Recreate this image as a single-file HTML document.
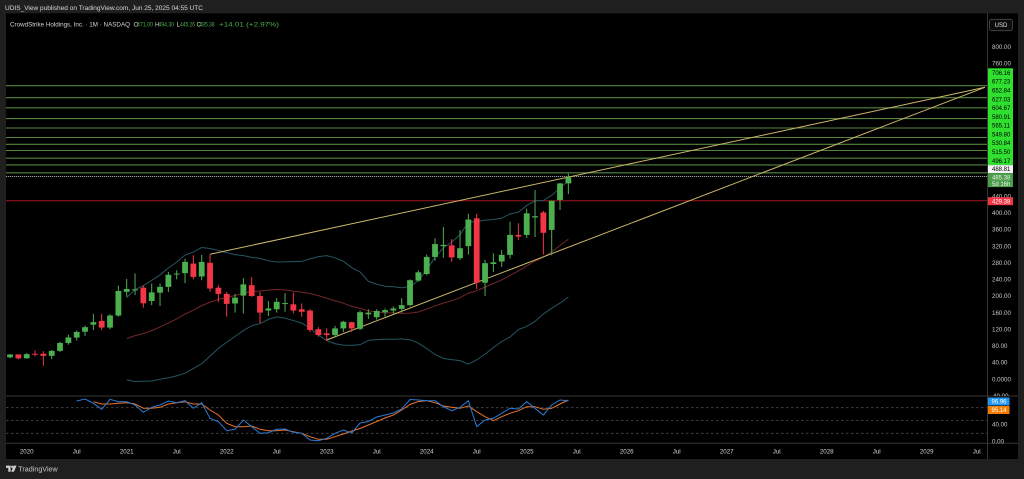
<!DOCTYPE html>
<html><head><meta charset="utf-8">
<style>
html,body{margin:0;padding:0;background:#1f1f1f;width:1024px;height:479px;overflow:hidden}
svg{display:block}
text{font-family:"Liberation Sans",sans-serif}
</style></head><body>
<svg width="1024" height="479" viewBox="0 0 1024 479" xmlns="http://www.w3.org/2000/svg">
<defs>
<clipPath id="cm"><rect x="6" y="13.3" width="981.5" height="382.7"/></clipPath>
<clipPath id="cs"><rect x="6" y="396.5" width="981.5" height="46.5"/></clipPath>
<clipPath id="ca"><rect x="988" y="13.3" width="30" height="382.7"/></clipPath>
</defs>
<rect x="0" y="0" width="1024" height="479" fill="#1f1f1f"/>
<rect x="6" y="13.3" width="1012" height="445.7" fill="#000"/>

<text x="5" y="9.8" font-size="6.6" fill="#d8d8d8" textLength="198" lengthAdjust="spacingAndGlyphs">UDIS_View published on TradingView.com, Jun 25, 2025 04:55 UTC</text>

<g clip-path="url(#cm)">
  <g stroke="#55853f" stroke-width="1.1">
    <line x1="6" x2="987.5" y1="85.7" y2="85.7"/>
    <line x1="6" x2="987.5" y1="97.7" y2="97.7"/>
    <line x1="6" x2="987.5" y1="107.8" y2="107.8"/>
    <line x1="6" x2="987.5" y1="118.6" y2="118.6"/>
    <line x1="6" x2="987.5" y1="128" y2="128"/>
    <line x1="6" x2="987.5" y1="137.5" y2="137.5"/>
    <line x1="6" x2="987.5" y1="144.3" y2="144.3"/>
    <line x1="6" x2="987.5" y1="150.5" y2="150.5"/>
    <line x1="6" x2="987.5" y1="158.2" y2="158.2"/>
    <line x1="6" x2="987.5" y1="164.9" y2="164.9"/>
    <line x1="6" x2="987.5" y1="172.8" y2="172.8"/>
  </g>
  <line x1="6" x2="987.5" y1="176.5" y2="176.5" stroke="#9a9a9a" stroke-width="1" stroke-dasharray="1.2 0.8"/>
  <line x1="6" x2="987.5" y1="200.7" y2="200.7" stroke="#a3161f" stroke-width="1"/>

  <!-- Bollinger bands -->
  <polyline fill="none" stroke="#255661" stroke-width="1" points="126.7,297.57 135.03,289.67 143.37,285.73 151.7,280.29 160.03,274.92 168.37,268.02 176.7,261.97 185.03,255.03 193.37,252.05 201.7,247.47 210.03,248.51 218.37,250.45 226.7,252.66 235.03,254.58 243.37,255.58 251.7,257.38 260.03,258.39 268.37,260.82 276.7,261.97 285.03,261.93 293.37,261.63 301.7,261.43 310.03,258.87 318.37,256.59 326.7,255.68 335.03,257.81 343.37,261.2 351.7,267.7 360.03,271.89 368.37,281.27 376.7,284.22 385.03,286.26 393.37,286.72 401.7,287.78 410.03,286.58 418.37,280.74 426.7,269.82 435.03,257.42 443.37,247.74 451.7,241.98 460.03,234.79 468.37,221.99 476.7,221.58 485.03,220.14 493.37,219.47 501.7,218.14 510.03,213.99 518.37,212.25 526.7,205.43 535.03,200.9 543.37,200.39 551.7,195.32 560.03,187.88 568.37,181.05"/>
  <polyline fill="none" stroke="#255661" stroke-width="1" points="126.7,379.74 135.03,381.56 143.37,381.28 151.7,380.94 160.03,379.26 168.37,377.93 176.7,375.88 185.03,373.18 193.37,368.43 201.7,363.78 210.03,356.0 218.37,348.37 226.7,342.25 235.03,336.35 243.37,330.59 251.7,325.68 260.03,323.71 268.37,319.37 276.7,316.85 285.03,318.09 293.37,320.55 301.7,323.0 310.03,328.24 318.37,334.79 326.7,340.52 335.03,343.75 343.37,345.18 351.7,345.32 360.03,344.67 368.37,340.35 376.7,339.65 385.03,339.23 393.37,339.23 401.7,338.92 410.03,339.7 418.37,343.17 426.7,348.53 435.03,354.48 443.37,358.47 451.7,359.66 460.03,360.62 468.37,364.19 476.7,359.86 485.03,354.12 493.37,347.51 501.7,341.49 510.03,336.96 518.37,329.52 526.7,326.45 535.03,321.34 543.37,314.04 551.7,308.18 560.03,303.11 568.37,297.17"/>
  <polyline fill="none" stroke="#74262a" stroke-width="1" points="126.7,338.66 135.03,335.62 143.37,333.5 151.7,330.62 160.03,327.09 168.37,322.97 176.7,318.93 185.03,314.11 193.37,310.24 201.7,305.63 210.03,302.26 218.37,299.41 226.7,297.46 235.03,295.47 243.37,293.09 251.7,291.53 260.03,291.05 268.37,290.1 276.7,289.41 285.03,290.01 293.37,291.09 301.7,292.21 310.03,293.55 318.37,295.69 326.7,298.1 335.03,300.78 343.37,303.19 351.7,306.51 360.03,308.28 368.37,310.81 376.7,311.93 385.03,312.75 393.37,312.97 401.7,313.35 410.03,313.14 418.37,311.96 426.7,309.17 435.03,305.95 443.37,303.11 451.7,300.82 460.03,297.7 468.37,293.09 476.7,290.72 485.03,287.13 493.37,283.49 501.7,279.82 510.03,275.47 518.37,270.88 526.7,265.94 535.03,261.12 543.37,257.21 551.7,251.75 560.03,245.5 568.37,239.11"/>

  <!-- trend lines -->
  <g stroke="#cbb86a" stroke-width="1" fill="none">
    <line x1="210" y1="254.3" x2="985" y2="87.3"/>
    <line x1="326.7" y1="340" x2="985" y2="87.3"/>
  </g>

  <!-- green candles -->
  <g fill="#4caf50">
    <path stroke="#4caf50" stroke-width="1" fill="none" d="M10.03 354.17V358.32M26.7 352.92V358.74M51.7 350.02V359.16M60.03 341.7V352.09M68.37 334.64V344.61M76.7 330.49V340.46M85.03 325.5V335.89M93.37 313.87V330.07M110.03 314.28V329.24M118.37 285.61V316.78M126.7 278.97V296.83M135.03 273.56V295.17M151.7 283.53V305.14M160.03 283.53V305.97M168.37 271.9V291.85M176.7 270.24V279.38M185.03 258.6V283.12M201.7 254.87V280.21M235.03 293.92V312.62M243.37 278.14V313.45M268.37 300.99V315.94M276.7 298.08V312.62M285.03 293.09V311.79M335.03 325.92V336.72M343.37 320.93V332.15M360.03 310.54V330.07M368.37 309.3V318.85M376.7 309.3V319.68M385.03 308.47V316.78M393.37 306.39V313.45M401.7 298.08V312.62M410.03 279.38V306.39M418.37 270.24V281.46M426.7 254.45V275.23M435.03 238.25V260.68M443.37 227.03V257.77M460.03 229.94V259.85M468.37 213.73V254.45M485.03 259.85V296.0M493.37 253.2V271.9M501.7 249.88V266.92M510.03 221.63V258.6M526.7 208.75V237.83M535.03 190.05V237.0M551.7 200.44V255.28M560.03 182.99V210.0M568.37 173.72V194.1"/>
    <rect x="7.13" y="354.46" width="5.8" height="2.83"/>
    <rect x="23.8" y="354.21" width="5.8" height="4.11"/>
    <rect x="48.8" y="350.85" width="5.8" height="4.99"/>
    <rect x="57.13" y="342.95" width="5.8" height="7.89"/>
    <rect x="65.47" y="337.43" width="5.8" height="5.53"/>
    <rect x="73.8" y="331.98" width="5.8" height="5.57"/>
    <rect x="82.13" y="327.16" width="5.8" height="4.57"/>
    <rect x="90.47" y="322.18" width="5.8" height="2.49"/>
    <rect x="107.13" y="315.53" width="5.8" height="12.05"/>
    <rect x="115.47" y="291.01" width="5.8" height="24.51"/>
    <rect x="123.8" y="288.94" width="5.8" height="2.91"/>
    <rect x="132.13" y="289.35" width="5.8" height="1"/>
    <rect x="148.8" y="292.39" width="5.8" height="8.6"/>
    <rect x="157.13" y="286.86" width="5.8" height="5.82"/>
    <rect x="165.47" y="274.81" width="5.8" height="12.05"/>
    <rect x="173.8" y="273.56" width="5.8" height="1"/>
    <rect x="182.13" y="261.93" width="5.8" height="11.22"/>
    <rect x="198.8" y="261.93" width="5.8" height="14.54"/>
    <rect x="232.13" y="297.66" width="5.8" height="5.82"/>
    <rect x="240.47" y="284.37" width="5.8" height="11.22"/>
    <rect x="265.47" y="308.47" width="5.8" height="2.08"/>
    <rect x="273.8" y="301.82" width="5.8" height="7.48"/>
    <rect x="282.13" y="303.07" width="5.8" height="1"/>
    <rect x="332.13" y="328.41" width="5.8" height="6.65"/>
    <rect x="340.47" y="321.76" width="5.8" height="6.65"/>
    <rect x="357.13" y="312.2" width="5.8" height="16.62"/>
    <rect x="365.47" y="312.62" width="5.8" height="1.66"/>
    <rect x="373.8" y="310.96" width="5.8" height="6.23"/>
    <rect x="382.13" y="310.13" width="5.8" height="2.08"/>
    <rect x="390.47" y="308.47" width="5.8" height="2.08"/>
    <rect x="398.8" y="305.14" width="5.8" height="3.74"/>
    <rect x="407.13" y="280.21" width="5.8" height="24.93"/>
    <rect x="415.47" y="272.32" width="5.8" height="8.31"/>
    <rect x="423.8" y="256.94" width="5.8" height="17.04"/>
    <rect x="432.13" y="244.06" width="5.8" height="12.88"/>
    <rect x="440.47" y="244.89" width="5.8" height="1.25"/>
    <rect x="457.13" y="248.22" width="5.8" height="9.97"/>
    <rect x="465.47" y="219.55" width="5.8" height="26.59"/>
    <rect x="482.13" y="263.18" width="5.8" height="19.53"/>
    <rect x="490.47" y="262.34" width="5.8" height="1.66"/>
    <rect x="498.8" y="254.87" width="5.8" height="6.65"/>
    <rect x="507.13" y="234.92" width="5.8" height="19.94"/>
    <rect x="523.8" y="213.32" width="5.8" height="21.61"/>
    <rect x="532.13" y="216.23" width="5.8" height="1.25"/>
    <rect x="548.8" y="200.85" width="5.8" height="29.09"/>
    <rect x="557.13" y="183.4" width="5.8" height="16.62"/>
    <rect x="565.47" y="177.43" width="5.8" height="5.97"/>
  </g>
  <!-- red candles -->
  <g fill="#f23645">
    <path stroke="#f23645" stroke-width="1" fill="none" d="M18.37 354.96V359.36M35.03 350.43V356.25M43.37 351.26V365.8M101.7 313.87V330.07M143.37 285.61V307.63M193.37 255.28V279.38M210.03 254.87V291.85M218.37 285.2V302.23M226.7 291.85V316.78M251.7 277.3V296.83M260.03 291.85V323.01M293.37 292.68V313.45M301.7 303.48V316.78M310.03 309.3V332.15M318.37 327.16V336.72M326.7 328.41V340.87M351.7 321.76V331.73M451.7 239.08V261.93M476.7 213.73V288.94M518.37 223.29V239.91M543.37 210.82V254.45"/>
    <rect x="15.47" y="354.38" width="5.8" height="3.99"/>
    <rect x="32.13" y="353.75" width="5.8" height="1"/>
    <rect x="40.47" y="353.75" width="5.8" height="2.2"/>
    <rect x="98.8" y="320.93" width="5.8" height="6.65"/>
    <rect x="140.47" y="287.69" width="5.8" height="15.58"/>
    <rect x="190.47" y="263.59" width="5.8" height="13.3"/>
    <rect x="207.13" y="262.76" width="5.8" height="25.76"/>
    <rect x="215.47" y="287.69" width="5.8" height="6.23"/>
    <rect x="223.8" y="293.92" width="5.8" height="9.97"/>
    <rect x="248.8" y="285.2" width="5.8" height="10.8"/>
    <rect x="257.13" y="296.0" width="5.8" height="16.62"/>
    <rect x="290.47" y="304.31" width="5.8" height="6.23"/>
    <rect x="298.8" y="309.3" width="5.8" height="2.49"/>
    <rect x="307.13" y="310.54" width="5.8" height="19.53"/>
    <rect x="315.47" y="329.24" width="5.8" height="5.82"/>
    <rect x="323.8" y="333.4" width="5.8" height="1.66"/>
    <rect x="348.8" y="322.18" width="5.8" height="6.23"/>
    <rect x="448.8" y="245.31" width="5.8" height="12.05"/>
    <rect x="473.8" y="218.3" width="5.8" height="64.4"/>
    <rect x="515.47" y="234.92" width="5.8" height="1.66"/>
    <rect x="540.47" y="212.48" width="5.8" height="20.36"/>
  </g>
</g>

<text x="10" y="26.3" font-size="6.3" fill="#d6d6d6" textLength="120" lengthAdjust="spacingAndGlyphs">CrowdStrike Holdings, Inc. · 1M · NASDAQ</text>
<g font-size="6.3">
  <text x="133.5" y="26.3" fill="#d6d6d6">O</text>
  <text x="137" y="26.3" fill="#4caf50" textLength="16" lengthAdjust="spacingAndGlyphs">471.00</text>
  <text x="155" y="26.3" fill="#d6d6d6">H</text>
  <text x="158.5" y="26.3" fill="#4caf50" textLength="15.5" lengthAdjust="spacingAndGlyphs">494.30</text>
  <text x="176.5" y="26.3" fill="#d6d6d6">L</text>
  <text x="180" y="26.3" fill="#4caf50" textLength="15" lengthAdjust="spacingAndGlyphs">445.26</text>
  <text x="196.5" y="26.3" fill="#d6d6d6">C</text>
  <text x="199.5" y="26.3" fill="#4caf50" textLength="15" lengthAdjust="spacingAndGlyphs">485.38</text>
  <text x="219" y="26.3" fill="#4caf50" textLength="60" lengthAdjust="spacingAndGlyphs">+14.01 (+2.97%)</text>
</g>

<!-- separators -->
<line x1="987.5" y1="13.3" x2="987.5" y2="459" stroke="#363636" stroke-width="1"/>
<line x1="6" y1="396" x2="1018" y2="396" stroke="#363636" stroke-width="1"/>
<line x1="6" y1="443.3" x2="1018" y2="443.3" stroke="#363636" stroke-width="1"/>
<g stroke="#4a4a4a" stroke-width="0.8" stroke-dasharray="2.5 2.5">
  <line x1="6" x2="987" y1="407.7" y2="407.7"/>
  <line x1="6" x2="987" y1="420.4" y2="420.4"/>
  <line x1="6" x2="987" y1="433.3" y2="433.3"/>
</g>

<!-- Stoch RSI -->
<g clip-path="url(#cs)" fill="none" stroke-width="1">
  <polyline stroke="#e8742a" points="93.37,401.7 101.7,404 110.03,404 118.37,403.3 126.7,402.7 135.03,404 143.37,408.3 151.7,408.3 160.03,407.3 168.37,404 176.7,402.7 185.03,401.7 193.37,404 201.7,404 210.03,410 218.37,415 226.7,423.3 235.03,426.7 243.37,426.7 251.7,426 260.03,429.3 268.37,430.7 276.7,430.7 285.03,430 293.37,431.7 301.7,433.3 310.03,436.7 318.37,439.3 326.7,439.3 335.03,436.7 343.37,434 351.7,431 360.03,428.5 368.37,425 376.7,421.5 385.03,418 393.37,415 401.7,410 410.03,404.5 418.37,401.5 426.7,400.7 435.03,402.7 443.37,406 451.7,407.3 460.03,408.3 468.37,406 476.7,411.7 485.03,416.7 493.37,420.7 501.7,416.7 510.03,413.3 518.37,410.7 526.7,406.7 535.03,406.7 543.37,409.3 551.7,408.3 560.03,404 568.37,400"/>
  <polyline stroke="#2b7bd6" points="76.7,401 85.03,399 93.37,403.3 101.7,409.3 110.03,399.3 118.37,401.7 126.7,401.7 135.03,405 143.37,412.3 151.7,407.3 160.03,405 168.37,401 176.7,402.7 185.03,400.7 193.37,408.3 201.7,402.7 210.03,418.3 218.37,421.7 226.7,430.7 235.03,429.3 243.37,420 251.7,426.7 260.03,433.3 268.37,432.7 276.7,429.3 285.03,429 293.37,432.3 301.7,433.3 310.03,440 318.37,440.7 326.7,438.3 335.03,433.3 343.37,430 351.7,433 360.03,423 368.37,421.5 376.7,417 385.03,415 393.37,413 401.7,409 410.03,399.5 418.37,400 426.7,400.7 435.03,400.7 443.37,406.7 451.7,410.7 460.03,407.3 468.37,400.7 476.7,426.7 485.03,420 493.37,418.3 501.7,413.3 510.03,408.3 518.37,409 526.7,401.7 535.03,408.3 543.37,415 551.7,405 560.03,400 568.37,400.7"/>
</g>

<!-- USD button -->
<rect x="989.5" y="19.3" width="23" height="11.4" rx="2" fill="#0d0d0d" stroke="#4a4a4a" stroke-width="0.8"/>
<text x="1001" y="27.2" font-size="6" fill="#e0e0e0" text-anchor="middle">USD</text>

<!-- price axis ticks -->
<g font-size="6.2" fill="#c8c8c8" clip-path="url(#ca)">
  <text x="992" y="48.9">800.00</text>
  <text x="992" y="65.5">760.00</text>
  <text x="992" y="198.5">440.00</text>
  <text x="992" y="215.1">400.00</text>
  <text x="992" y="231.7">360.00</text>
  <text x="992" y="248.3">320.00</text>
  <text x="992" y="265.0">280.00</text>
  <text x="992" y="281.6">240.00</text>
  <text x="992" y="298.2">200.00</text>
  <text x="992" y="314.8">160.00</text>
  <text x="992" y="331.4">120.00</text>
  <text x="992" y="348.1">80.00</text>
  <text x="992" y="364.7">40.00</text>
  <text x="992" y="381.3">0.0000</text>
  <text x="991" y="397.9">-40.00</text>
</g>

<!-- price labels -->
<g>
  <rect x="988" y="68.3" width="25" height="96.8" fill="#2fe02f"/>
  <g font-size="6" fill="#000">
    <text x="992" y="74.9">706.16</text>
    <text x="992" y="83.7">677.23</text>
    <text x="992" y="92.5">652.84</text>
    <text x="992" y="101.3">627.03</text>
    <text x="992" y="110.1">604.67</text>
    <text x="992" y="118.9">580.91</text>
    <text x="992" y="127.6">565.11</text>
    <text x="992" y="136.4">549.80</text>
    <text x="992" y="145.2">530.84</text>
    <text x="992" y="154.0">515.50</text>
    <text x="992" y="162.8">496.17</text>
  </g>
  <rect x="988" y="165.1" width="25" height="8" fill="#f2f2f2"/>
  <text x="992" y="171.2" font-size="6" fill="#000">488.81</text>
  <rect x="988" y="173.1" width="25" height="14" fill="#4a9e4a"/>
  <text x="992" y="179.6" font-size="6" fill="#f0f0f0">485.38</text>
  <text x="992" y="186" font-size="6" fill="#f0f0f0">5d 16h</text>
  <rect x="988" y="197.2" width="25" height="8" fill="#f23645"/>
  <text x="992" y="203.3" font-size="6" fill="#fff">429.38</text>
</g>

<!-- stoch labels -->
<rect x="988" y="397.5" width="21.5" height="8" fill="#2196f3"/>
<text x="991.5" y="403.6" font-size="6" fill="#fff">96.96</text>
<rect x="988" y="406" width="21.5" height="8" fill="#f57c00"/>
<text x="991.5" y="412.1" font-size="6" fill="#fff">95.14</text>
<text x="992" y="426.6" font-size="6.2" fill="#c8c8c8">40.00</text>
<text x="992" y="443.6" font-size="6.2" fill="#c8c8c8">0.00</text>

<!-- time axis -->
<g font-size="6.2" fill="#d4d4d4" text-anchor="middle">
  <text x="26.7" y="453.4">2020</text>
  <text x="76.7" y="453.4">Jul</text>
  <text x="126.7" y="453.4">2021</text>
  <text x="176.7" y="453.4">Jul</text>
  <text x="226.7" y="453.4">2022</text>
  <text x="276.7" y="453.4">Jul</text>
  <text x="326.7" y="453.4">2023</text>
  <text x="376.7" y="453.4">Jul</text>
  <text x="426.7" y="453.4">2024</text>
  <text x="476.7" y="453.4">Jul</text>
  <text x="526.7" y="453.4">2025</text>
  <text x="576.7" y="453.4">Jul</text>
  <text x="626.7" y="453.4">2026</text>
  <text x="676.7" y="453.4">Jul</text>
  <text x="726.7" y="453.4">2027</text>
  <text x="776.7" y="453.4">Jul</text>
  <text x="826.7" y="453.4">2028</text>
  <text x="876.7" y="453.4">Jul</text>
  <text x="926.7" y="453.4">2029</text>
  <text x="976.7" y="453.4">Jul</text>
</g>

<!-- bottom logo -->
<g fill="#d0d0d0">
  <path d="M6 465.6h4.6v6.2h-2.3v-3.9H6z"/>
  <circle cx="12.2" cy="466.8" r="1.2"/>
  <path d="M13.8 465.6h2.7l-2.6 6.2h-2.7z"/>
</g>
<text x="18.3" y="471.6" font-size="7.6" fill="#c8c8c8" textLength="39.4" lengthAdjust="spacingAndGlyphs">TradingView</text>
</svg>
</body></html>
